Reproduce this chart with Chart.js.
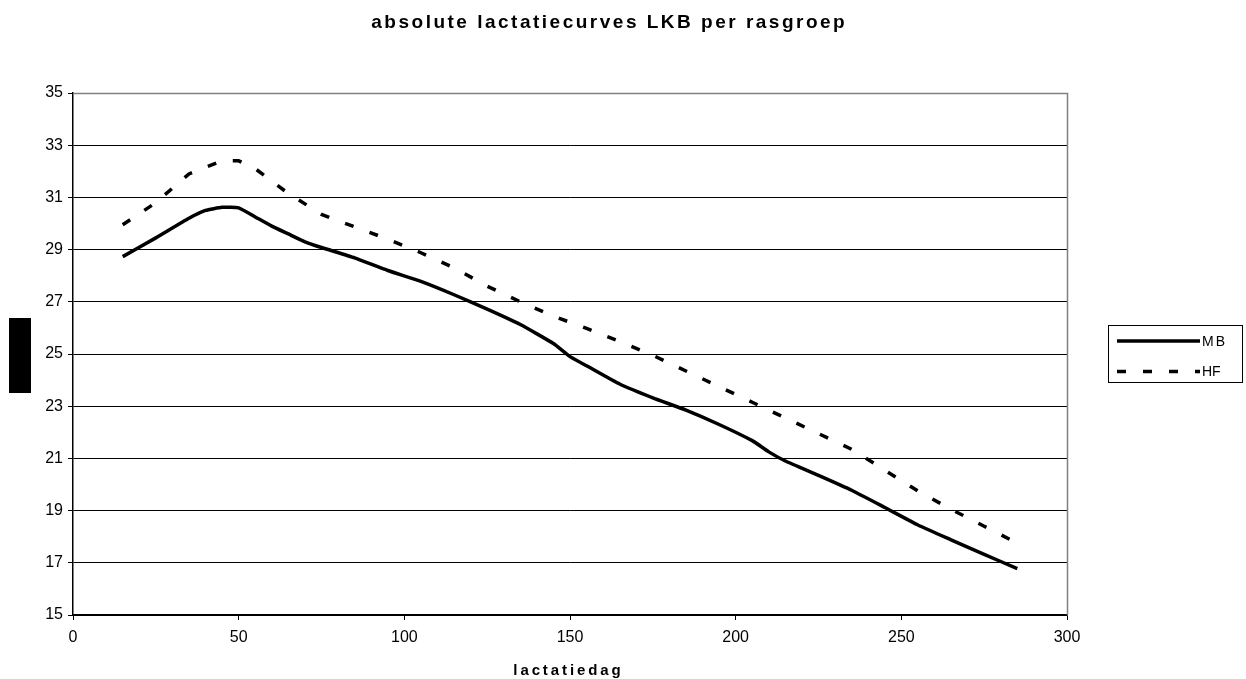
<!DOCTYPE html>
<html>
<head>
<meta charset="utf-8">
<script src="https://cdn.jsdelivr.net/npm/chart.js@4.4.0/dist/chart.umd.min.js"></script>
<style>
  html, body { margin: 0; padding: 0; background: #fff; }
  canvas { display: block; }
</style>
</head>
<body>
<canvas id="c" width="1246" height="679"></canvas>
<script>
const chartTitle = 'absolute lactatiecurves LKB per rasgroep';
const xAxisTitle = 'lactatiedag';
const seriesNames = ['MB', 'HF'];

const mbDays   = [15, 25, 35, 40, 45, 50, 55, 60, 65, 70, 75, 85, 95, 105, 115, 125, 135, 145, 150, 155, 165, 175, 185, 195, 205, 210, 215, 225, 235, 245, 255, 265, 275, 285];
const mbValues = [28.73, 29.45, 30.2, 30.5, 30.62, 30.6, 30.25, 29.9, 29.6, 29.3, 29.08, 28.68, 28.2, 27.78, 27.27, 26.72, 26.13, 25.4, 24.9, 24.55, 23.85, 23.32, 22.85, 22.3, 21.68, 21.25, 20.9, 20.35, 19.78, 19.12, 18.45, 17.88, 17.32, 16.78];

const hfDays   = [15, 25, 35, 45, 50, 55, 65, 75, 85, 95, 105, 115, 125, 135, 145, 155, 165, 175, 185, 195, 205, 215, 225, 235, 245, 255, 265, 275, 285];
const hfValues = [29.95, 30.8, 31.9, 32.4, 32.4, 32.1, 31.15, 30.35, 29.87, 29.4, 28.88, 28.3, 27.6, 27.0, 26.45, 25.98, 25.48, 24.95, 24.35, 23.75, 23.15, 22.55, 21.95, 21.35, 20.55, 19.75, 19.05, 18.4, 17.75];

const xTicks = { min: 0, max: 300, step: 50 };
const yTicks = { min: 15, max: 35, step: 2 };

const FONT = '"Liberation Sans", Arial, sans-serif';

function toPoints(xs, ys) { return xs.map((x, i) => ({ x: x, y: ys[i] })); }

function drawSpaced(ctx, text, cx, baseline, spacing) {
  ctx.save();
  ctx.letterSpacing = spacing + 'px';
  const w = ctx.measureText(text).width - spacing;
  ctx.textAlign = 'left';
  ctx.textBaseline = 'alphabetic';
  ctx.fillText(text, cx - w / 2, baseline);
  ctx.restore();
}

const decor = {
  id: 'decor',
  afterDraw(chart) {
    const ctx = chart.ctx;
    const a = chart.chartArea;
    ctx.save();
    ctx.strokeStyle = '#808080';
    ctx.lineWidth = 1.5;
    ctx.beginPath();
    ctx.moveTo(a.left, a.top + 0.5);
    ctx.lineTo(a.right + 0.5, a.top + 0.5);
    ctx.lineTo(a.right + 0.5, a.bottom);
    ctx.stroke();

    ctx.fillStyle = '#000';
    ctx.font = 'bold 19px ' + FONT;
    drawSpaced(ctx, chartTitle, 608, 28, 2.5);

    ctx.font = 'bold 15px ' + FONT;
    drawSpaced(ctx, xAxisTitle, 567, 675, 2.9);

    ctx.fillStyle = '#000';
    ctx.fillRect(9, 318, 22, 75);

    ctx.strokeStyle = '#000';
    ctx.lineWidth = 1;
    ctx.strokeRect(1108.5, 325.5, 134, 57);
    const ds = chart.data.datasets;
    const rows = [341, 371.5];
    ds.forEach((d, i) => {
      ctx.save();
      ctx.strokeStyle = d.borderColor;
      ctx.lineWidth = d.borderWidth;
      ctx.setLineDash(d.borderDash || []);
      ctx.lineCap = 'butt';
      ctx.beginPath();
      ctx.moveTo(1117, rows[i]);
      ctx.lineTo(1200, rows[i]);
      ctx.stroke();
      ctx.restore();
      ctx.fillStyle = '#000';
      ctx.font = '14px ' + FONT;
      ctx.textAlign = 'left';
      ctx.textBaseline = 'middle';
      ctx.letterSpacing = i === 0 ? '2px' : '0px';
      ctx.fillText(d.label, 1202, rows[i] + 1);
      ctx.letterSpacing = '0px';
    });
    ctx.restore();
  }
};

new Chart(document.getElementById('c'), {
  type: 'line',
  data: {
    datasets: [
      {
        label: seriesNames[0],
        data: toPoints(mbDays, mbValues),
        borderColor: '#000',
        borderWidth: 3.5,
        pointRadius: 0,
        tension: 0.15,
        fill: false
      },
      {
        label: seriesNames[1],
        data: toPoints(hfDays, hfValues),
        borderColor: '#000',
        borderWidth: 3.5,
        borderDash: [9, 17],
        pointRadius: 0,
        tension: 0,
        fill: false
      }
    ]
  },
  options: {
    responsive: false,
    devicePixelRatio: 1,
    animation: false,
    layout: { padding: { top: 93, right: 179, left: 0, bottom: 0 } },
    plugins: {
      legend: { display: false },
      title: { display: false },
      tooltip: { enabled: false }
    },
    scales: {
      x: {
        type: 'linear',
        min: xTicks.min,
        max: xTicks.max,
        afterFit(s) { s.height = 64; },
        ticks: {
          stepSize: xTicks.step,
          color: '#000',
          font: { family: FONT, size: 16 },
          padding: 8,
          maxRotation: 0
        },
        grid: {
          drawOnChartArea: false,
          drawTicks: true,
          tickLength: 5,
          tickColor: '#000'
        },
        border: { display: true, color: '#000', width: 1.5 },
        title: { display: false, text: xAxisTitle }
      },
      y: {
        type: 'linear',
        min: yTicks.min,
        max: yTicks.max,
        afterFit(s) { s.width = 73; },
        ticks: {
          stepSize: yTicks.step,
          color: '#000',
          font: { family: FONT, size: 16 },
          padding: 5
        },
        grid: {
          color: (c) => (c.tick && c.tick.value === yTicks.max) ? 'rgba(0,0,0,0)' : '#000',
          lineWidth: 1,
          drawTicks: true,
          tickLength: 5,
          tickColor: '#000'
        },
        border: { display: true, color: '#000', width: 1.5 }
      }
    }
  },
  plugins: [decor]
});
</script>
</body>
</html>
